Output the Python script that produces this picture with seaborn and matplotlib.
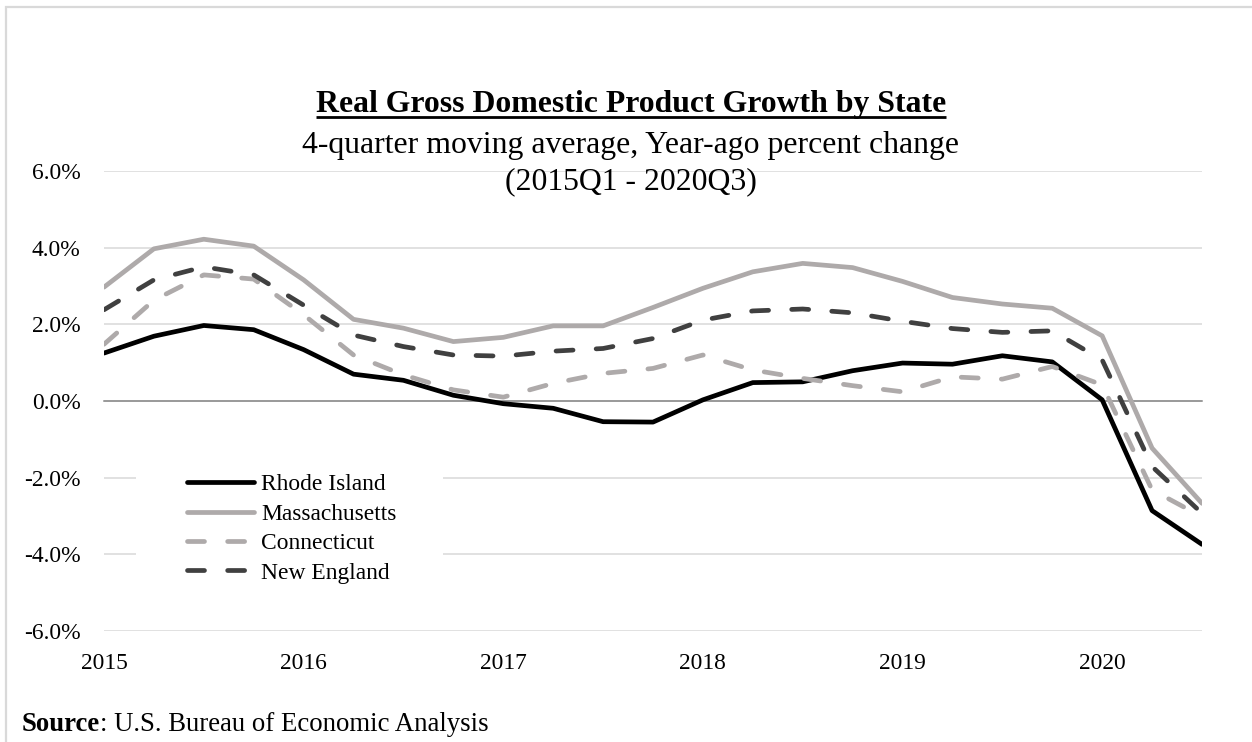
import numpy as np
import pandas as pd
import matplotlib
matplotlib.use("Agg")
import matplotlib.pyplot as plt
from matplotlib.lines import Line2D
from matplotlib.patches import Rectangle
import seaborn as sns

# Quarterly observations, 2015Q1 through 2020Q3
quarters = [f"{y}Q{q}" for y in range(2015, 2021) for q in range(1, 5)][:23]

rhode_island = [1.25, 1.69, 1.97, 1.86, 1.34, 0.70, 0.54, 0.15, -0.07, -0.19, -0.54, -0.55,
                0.03, 0.48, 0.50, 0.79, 0.99, 0.96, 1.18, 1.02, 0.03, -2.86, -3.74]
massachusetts = [2.97, 3.97, 4.22, 4.04, 3.16, 2.13, 1.90, 1.55, 1.66, 1.96, 1.96, 2.44,
                 2.94, 3.37, 3.59, 3.48, 3.12, 2.70, 2.53, 2.42, 1.70, -1.23, -2.67]
connecticut = [1.48, 2.63, 3.29, 3.18, 2.25, 1.20, 0.68, 0.29, 0.10, 0.46, 0.72, 0.85,
               1.20, 0.81, 0.59, 0.40, 0.24, 0.63, 0.57, 0.90, 0.42, -2.32, -3.02]
new_england = [2.38, 3.16, 3.50, 3.29, 2.50, 1.72, 1.42, 1.20, 1.17, 1.30, 1.37, 1.63,
               2.11, 2.35, 2.40, 2.30, 2.08, 1.89, 1.79, 1.83, 1.07, -1.71, -2.93]

series_names = ["Rhode Island", "Massachusetts", "Connecticut", "New England"]
year_ticks = [2015, 2016, 2017, 2018, 2019, 2020]
pct_ticks = [-6, -4, -2, 0, 2, 4, 6]

colors = {"Rhode Island": "#000000", "Massachusetts": "#aeaaaa",
          "Connecticut": "#aeaaaa", "New England": "#404040"}
dash_styles = {"Rhode Island": "", "Massachusetts": "",
               "Connecticut": (3.6, 4.9), "New England": (3.6, 4.9)}

def quarter_to_year(label):
    year, q = label.split("Q")
    return int(year) + (int(q) - 1) / 4

values = {"Rhode Island": rhode_island, "Massachusetts": massachusetts,
          "Connecticut": connecticut, "New England": new_england}
df = pd.concat([
    pd.DataFrame({"quarter": quarters,
                  "t": [quarter_to_year(q) for q in quarters],
                  "growth": vals,
                  "state": name})
    for name, vals in values.items()
], ignore_index=True)

sns.set_theme(style="white")
plt.rcParams["font.family"] = ["Liberation Serif", "DejaVu Serif"]
plt.rcParams["text.color"] = "black"
plt.rcParams["xtick.color"] = "black"
plt.rcParams["ytick.color"] = "black"
plt.rcParams["xtick.labelcolor"] = "black"
plt.rcParams["ytick.labelcolor"] = "black"
plt.rcParams["lines.solid_capstyle"] = "round"
plt.rcParams["lines.dash_capstyle"] = "round"
plt.rcParams["lines.solid_joinstyle"] = "round"
plt.rcParams["lines.dash_joinstyle"] = "round"

W, H = 1252, 742
fig = plt.figure(figsize=(W / 100, H / 100), dpi=100)
ax = fig.add_axes([104 / W, 1 - 631 / H, 1098 / W, 460 / H])

LW = 3.4
sns.lineplot(data=df, x="t", y="growth", hue="state", style="state",
             hue_order=series_names, style_order=series_names,
             palette=colors, dashes=dash_styles, linewidth=LW,
             legend=False, ax=ax, zorder=3)

ax.set_xlim(2015, 2020.5)
ax.set_ylim(-6, 6)
ax.set_axisbelow(True)
ax.set_xlabel("")
ax.set_ylabel("")

# Horizontal gridlines and percent labels
ax.set_yticks(pct_ticks)
ax.set_yticklabels([f"{v:.1f}%" for v in pct_ticks], fontsize=16.9, color="black")
ax.yaxis.grid(True, color="#d9d9d9", linewidth=1.1)
ax.xaxis.grid(False)
ax.tick_params(axis="y", length=0, pad=17)

# Category axis crosses at zero with tick marks at each year
for s in ["top", "right", "left"]:
    ax.spines[s].set_visible(False)
ax.spines["bottom"].set_position(("data", 0))
ax.spines["bottom"].set_color("#868686")
ax.spines["bottom"].set_linewidth(1.1)
ax.spines["bottom"].set_zorder(2)
ax.set_xticks(year_ticks)
ax.tick_params(axis="x", direction="inout", length=9.5, width=1.1,
               color="#868686", labelbottom=False)

# Year labels sit along the bottom of the plot area
sec = ax.secondary_xaxis("bottom")
sec.set_xticks(year_ticks)
sec.set_xticklabels([str(y) for y in year_ticks], fontsize=16.9, color="black")
sec.tick_params(length=0, pad=15.5)
sec.spines["bottom"].set_visible(False)

# White panel behind the legend
ax.add_patch(Rectangle((136 / W, 1 - 594 / H), (443 - 136) / W, (594 - 462) / H,
                       transform=fig.transFigure, facecolor="white",
                       edgecolor="none", zorder=1))

handles = []
for name in series_names:
    h = Line2D([], [], color=colors[name], linewidth=LW)
    if dash_styles[name]:
        h.set_dashes(dash_styles[name])
    handles.append(h)
ax.legend(handles, series_names, loc="upper left",
          bbox_to_anchor=(187 / W, 1 - 474 / H), bbox_transform=fig.transFigure,
          frameon=False, fontsize=16.9, handlelength=2.85, handletextpad=0.3,
          labelspacing=0.34, borderpad=0, borderaxespad=0)

# Titles
cx = 631 / W
title = fig.text(cx, 1 - 112 / H, "Real Gross Domestic Product Growth by State",
                 ha="center", va="baseline", fontsize=22.9, fontweight="bold",
                 color="black")
fig.text(cx, 1 - 153 / H, "4-quarter moving average, Year-ago percent change",
         ha="center", va="baseline", fontsize=22.9, color="black")
fig.text(cx, 1 - 189 / H, "(2015Q1 - 2020Q3)",
         ha="center", va="baseline", fontsize=22.9, color="black")

# Source note: bold lead-in followed by the agency name
src = fig.text(22 / W, 1 - 731 / H, "Source", ha="left", va="baseline",
               fontsize=19.3, fontweight="bold", color="black")
fig.canvas.draw()
renderer = fig.canvas.get_renderer()
sb = src.get_window_extent(renderer)
fig.text(sb.x1 / W, 1 - 731 / H, ": U.S. Bureau of Economic Analysis",
         ha="left", va="baseline", fontsize=19.3, color="black")

# Underline the main title
tb = title.get_window_extent(renderer)
uy = 1 - 117 / H
fig.add_artist(Line2D([tb.x0 / W, tb.x1 / W], [uy, uy], transform=fig.transFigure,
                      color="black", linewidth=2.0, solid_capstyle="butt"))

# Chart area border (top and left edges)
fig.add_artist(Line2D([6 / W, 6 / W, 1.0], [0.0, 1 - 7 / H, 1 - 7 / H],
                      transform=fig.transFigure, color="#d9d9d9", linewidth=1.6,
                      solid_capstyle="butt", solid_joinstyle="miter"))

fig.savefig("out.png", dpi=100)
